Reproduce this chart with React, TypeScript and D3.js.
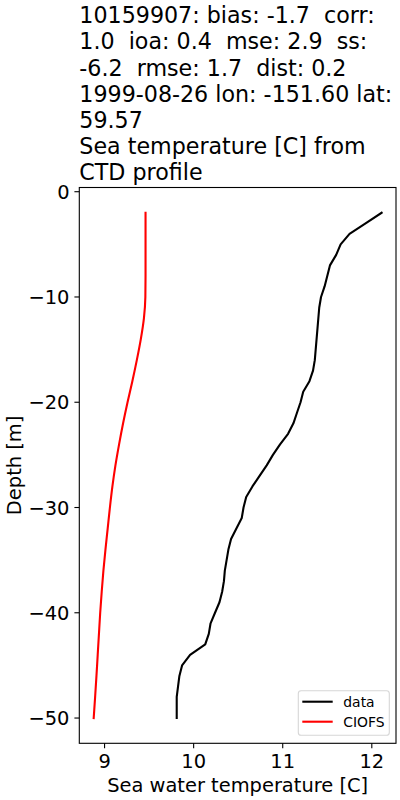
import React from "react";
import * as d3 from "d3";

// ---- Data ----
const titleLines: string[] = [
  "10159907: bias: -1.7  corr:",
  "1.0  ioa: 0.4  mse: 2.9  ss:",
  "-6.2  rmse: 1.7  dist: 0.2",
  "1999-08-26 lon: -151.60 lat:",
  "59.57",
  "Sea temperature [C] from",
  "CTD profile",
];

const dataDepth: number[] = [
  -2, -3, -4, -5, -6, -7, -8, -9, -10, -11, -12, -13, -14, -15, -16, -17, -18, -19, -20,
  -21, -22, -23, -24, -25, -26, -27, -28, -29, -30, -31, -32, -33, -34, -35, -36, -37,
  -38, -39, -40, -41, -42, -43, -44, -45, -46, -47, -48, -49, -50,
];
const dataTemp: number[] = [
  12.11, 11.93, 11.75, 11.65, 11.6, 11.53, 11.5, 11.47, 11.43, 11.41, 11.4, 11.39, 11.38,
  11.37, 11.36, 11.34, 11.3, 11.23, 11.2, 11.16, 11.12, 11.06, 10.97, 10.89, 10.82, 10.74,
  10.66, 10.59, 10.56, 10.54, 10.48, 10.42, 10.39, 10.37, 10.35, 10.34, 10.32, 10.29,
  10.24, 10.19, 10.17, 10.13, 9.96, 9.87, 9.84, 9.825, 9.81, 9.81, 9.81,
];

const modelDepth: number[] = [
  -2, -4, -6, -8, -10, -12, -14, -16, -18, -20, -22, -24, -26, -28, -30, -32, -34, -36,
  -38, -40, -42, -44, -46, -48, -50,
];
const modelTemp: number[] = [
  9.46, 9.46, 9.46, 9.46, 9.458, 9.442, 9.407, 9.362, 9.312, 9.258, 9.208, 9.163, 9.122,
  9.088, 9.06, 9.035, 9.01, 8.987, 8.968, 8.951, 8.937, 8.923, 8.909, 8.894, 8.878,
];

const xTicks: number[] = [9, 10, 11, 12];
const yTicks: number[] = [0, -10, -20, -30, -40, -50];
const seriesNames: string[] = ["data", "CIOFS"];
const seriesColors: string[] = ["#000000", "#ff0000"];

// ---- Layout ----
const W = 400;
const H = 800;
const left = 79.3;
const right = 396;
const top = 187.5;
const bottom = 743.3;
const FONT = "DejaVu Sans";

const fmt = (v: number) => (v < 0 ? "\u2212" + Math.abs(v) : String(v));

export default function App() {
  const allT = [...dataTemp, ...modelTemp];
  const allD = [...dataDepth, ...modelDepth];
  const tMin = d3.min(allT)!;
  const tMax = d3.max(allT)!;
  const dMin = d3.min(allD)!;
  const dMax = d3.max(allD)!;
  const tPad = (tMax - tMin) * 0.05;
  const dPad = (dMax - dMin) * 0.05;

  const x = d3.scaleLinear().domain([tMin - tPad, tMax + tPad]).range([left, right]);
  const y = d3.scaleLinear().domain([dMin - dPad, dMax + dPad]).range([bottom, top]);

  const line = d3
    .line<[number, number]>()
    .x((p) => x(p[0]))
    .y((p) => y(p[1]));
  const smoothLine = d3
    .line<[number, number]>()
    .x((p) => x(p[0]))
    .y((p) => y(p[1]))
    .curve(d3.curveMonotoneY);

  const dataPts: [number, number][] = dataTemp.map((t, i) => [t, dataDepth[i]]);
  const modelPts: [number, number][] = modelTemp.map((t, i) => [t, modelDepth[i]]);

  const tickLen = 4.9;
  const fs = 19.44;

  const legX = 298.3;
  const legY = 690.7;
  const legW = 91;
  const legH = 44.6;
  const rowY = [701.7, 721.7];

  return (
    <div style={{ position: "absolute", left: 0, top: 0 }}>
      <svg width={W} height={H} style={{ display: "block" }} fontFamily={FONT}>
        <rect x={0} y={0} width={W} height={H} fill="#ffffff" />

        {/* Title */}
        {titleLines.map((t, i) => (
          <text
            key={i}
            x={left}
            y={23.3 + i * 26.1}
            fontSize={22.2}
            fill="#000"
            style={{ whiteSpace: "pre" }}
          >
            {t}
          </text>
        ))}

        {/* Lines */}
        <path d={smoothLine(modelPts) || ""} fill="none" stroke={seriesColors[1]} strokeWidth={2.1} strokeLinejoin="round" strokeLinecap="square" />
        <path d={line(dataPts) || ""} fill="none" stroke={seriesColors[0]} strokeWidth={2.1} strokeLinejoin="round" strokeLinecap="square" />

        {/* Frame */}
        <rect x={left} y={top} width={right - left} height={bottom - top} fill="none" stroke="#000" strokeWidth={1.1} />

        {/* X ticks */}
        {xTicks.map((v) => (
          <g key={"x" + v}>
            <line x1={x(v)} x2={x(v)} y1={bottom} y2={bottom + tickLen} stroke="#000" strokeWidth={1.1} />
            <text x={x(v)} y={768} fontSize={fs} textAnchor="middle" fill="#000">
              {fmt(v)}
            </text>
          </g>
        ))}

        {/* Y ticks */}
        {yTicks.map((v) => (
          <g key={"y" + v}>
            <line x1={left - tickLen} x2={left} y1={y(v)} y2={y(v)} stroke="#000" strokeWidth={1.1} />
            <text x={left - tickLen - 4.9} y={y(v) + 7.1} fontSize={fs} textAnchor="end" fill="#000">
              {fmt(v)}
            </text>
          </g>
        ))}

        {/* Axis labels */}
        <text x={(left + right) / 2} y={792} fontSize={fs} textAnchor="middle" fill="#000">
          Sea water temperature [C]
        </text>
        <text
          transform={`translate(20.7, ${(top + bottom) / 2}) rotate(-90)`}
          fontSize={fs}
          textAnchor="middle"
          fill="#000"
        >
          Depth [m]
        </text>

        {/* Legend */}
        <rect x={legX} y={legY} width={legW} height={legH} rx={2.8} fill="#ffffff" fillOpacity={0.8} stroke="#cccccc" strokeOpacity={0.8} strokeWidth={1.1} />
        {seriesNames.map((n, i) => (
          <g key={n}>
            <line x1={302.3} x2={332.7} y1={rowY[i]} y2={rowY[i]} stroke={seriesColors[i]} strokeWidth={2.1} />
            <text x={343.3} y={rowY[i] + 5} fontSize={13.9} fill="#000">
              {n}
            </text>
          </g>
        ))}
      </svg>
    </div>
  );
}
